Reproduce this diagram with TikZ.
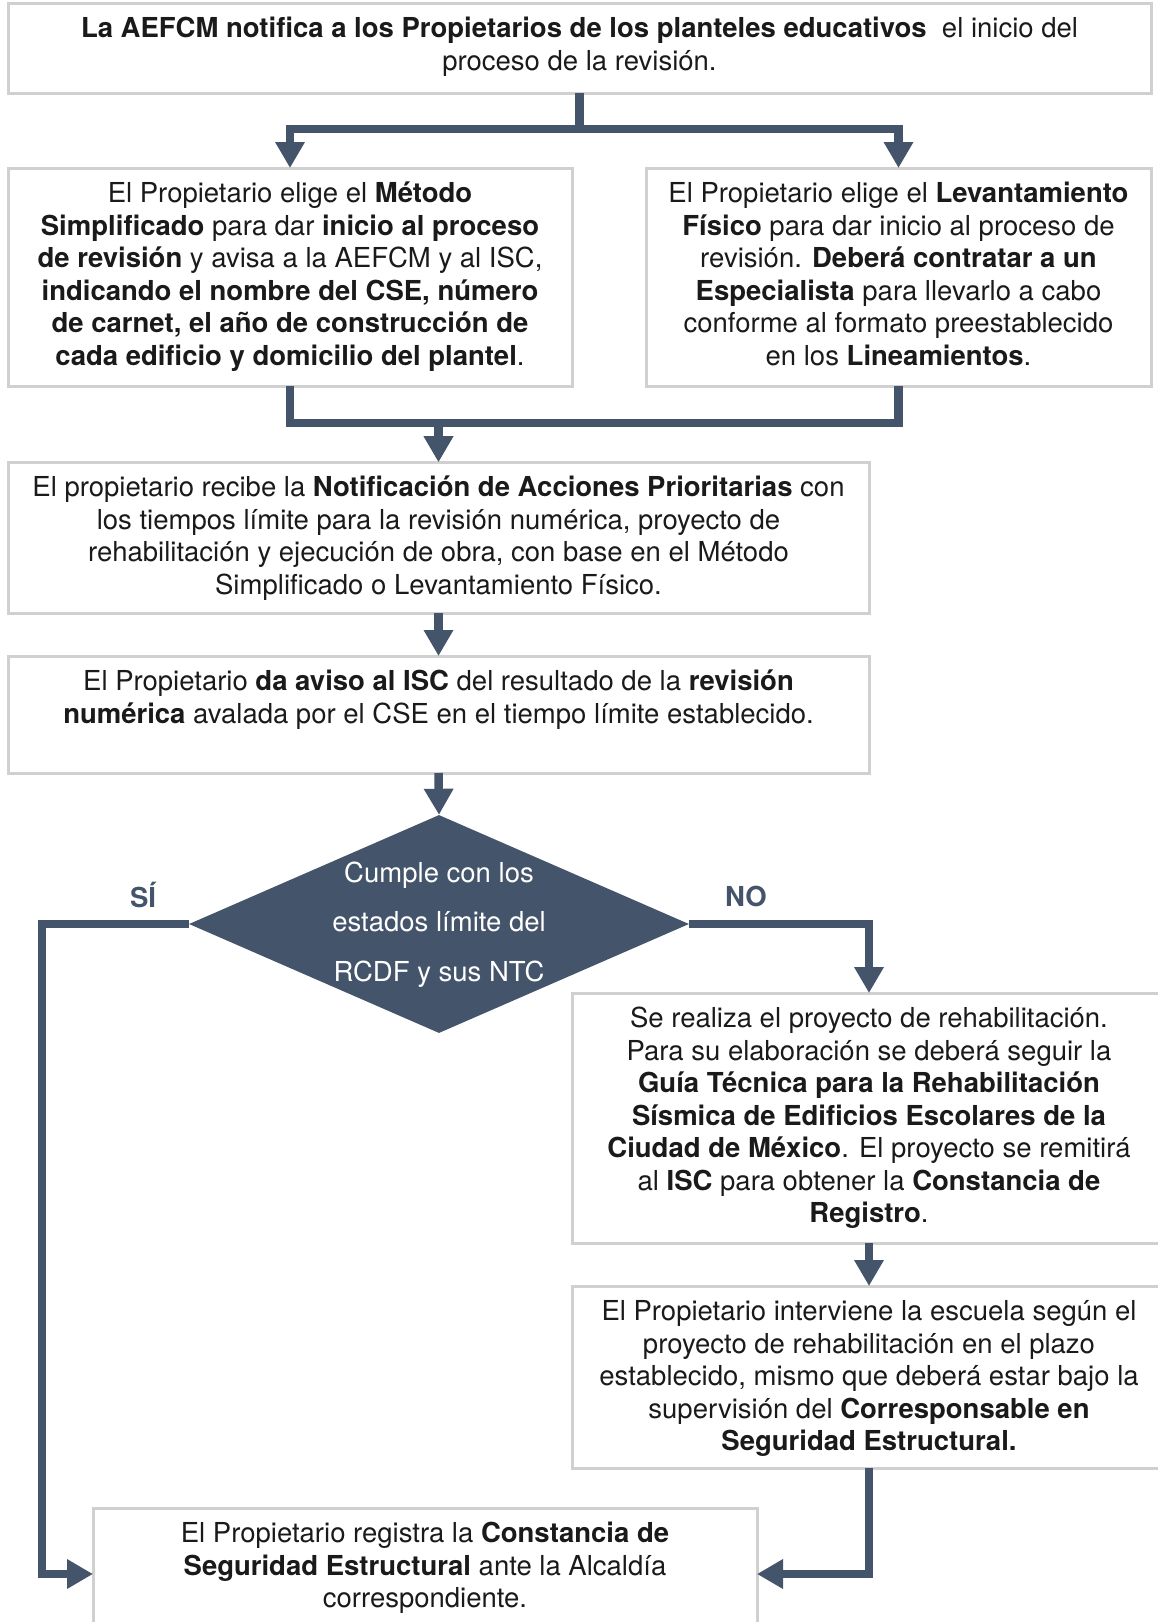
\documentclass[tikz,border=0pt]{standalone}
\usepackage{fontspec}
\setmainfont{TeX Gyre Heros}
\usepackage{tikz}
\usetikzlibrary{arrows.meta, positioning, shapes.geometric}
\usepackage{xcolor}
\definecolor{slate}{HTML}{44546A}
\definecolor{boxgray}{HTML}{D0D0D0}
\definecolor{ink}{HTML}{1A1A1A}

% top-aligned text in a box of fixed size
\newcommand{\boxtext}[3]{\parbox[c][#1][t]{#2}{\centering\vspace*{12pt}\strut #3}}

\begin{document}
\begin{tikzpicture}[x=1pt, y=-1pt,
        stepbox/.style={rectangle, draw=boxgray, line width=3pt, fill=white,
                    inner sep=0pt, outer sep=0pt, anchor=north west, text=ink,
                    font=\fontsize{27.5}{32.5}\selectfont},
        decision/.style={diamond, fill=slate, text=white, aspect=2.3,
                    minimum width=500pt, minimum height=218pt, inner sep=0pt,
                    font=\fontsize{27.5}{33}\selectfont},
        answer/.style={text=slate, font=\fontsize{27.5}{33}\selectfont\bfseries},
        flow/.style={draw=slate, line width=8.5pt,
                    -{Triangle[length=26pt, width=28pt]}},
      ]
        \useasboundingbox[fill=white] (0,0) rectangle (1157,1622);

        \node[stepbox] (top) at (8,3) {\boxtext{90pt}{1143pt}{%
            \textbf{La AEFCM notifica a los Propietarios de los planteles educativos}~ el inicio del\\
            proceso de la revisión.}};
        \node[stepbox] (metodo) at (8,168) {\boxtext{218pt}{564pt}{%
            El Propietario elige el \textbf{Método}\\
            \textbf{Simplificado} para dar \textbf{inicio al proceso}\\
            \textbf{de revisión} y avisa a la AEFCM y al ISC,\\
            \textbf{indicando el nombre del CSE, número}\\
            \textbf{de carnet, el año de construcción de}\\
            \textbf{cada edificio y domicilio del plantel}.}};
        \node[stepbox] (levant) at (646,168) {\boxtext{218pt}{505pt}{%
            El Propietario elige el \textbf{Levantamiento}\\
            \textbf{Físico} para dar inicio al proceso de\\
            revisión. \textbf{Deberá contratar a un}\\
            \textbf{Especialista} para llevarlo a cabo\\
            conforme al formato preestablecido\\
            en los \textbf{Lineamientos}.}};
        \node[stepbox] (recibe) at (8,462) {\boxtext{151pt}{861pt}{%
            El propietario recibe la \textbf{Notificación de Acciones Prioritarias} con\\
            los tiempos límite para la revisión numérica, proyecto de\\
            rehabilitación y ejecución de obra, con base en el Método\\
            Simplificado o Levantamiento Físico.}};
        \node[stepbox] (aviso) at (8,656) {\boxtext{117pt}{861pt}{%
            El Propietario \textbf{da aviso al ISC} del resultado de la \textbf{revisión}\\
            \textbf{numérica} avalada por el CSE en el tiempo límite establecido.}};
        \node[decision] (cumple) at (439,924) {\smash{\raisebox{-4pt}{\renewcommand{\arraystretch}{1.5}%
            \begin{tabular}[c]{@{}c@{}}Cumple con los\\ estados límite del\\ RCDF y sus NTC\end{tabular}}}};
        \node[answer] (si) at (143,895) {SÍ};
        \node[answer] (no) at (746,896) {NO};
        \node[stepbox] (rehab) at (572,993) {\boxtext{250pt}{594pt}{%
            Se realiza el proyecto de rehabilitación.\\
            Para su elaboración se deberá seguir la\\
            \textbf{Guía Técnica para la Rehabilitación}\\
            \textbf{Sísmica de Edificios Escolares de la}\\
            \textbf{Ciudad de México}. El proyecto se remitirá\\
            al \textbf{ISC} para obtener la \textbf{Constancia de}\\
            \textbf{Registro}.}};
        \node[stepbox] (interv) at (572,1286) {\boxtext{182pt}{594pt}{%
            El Propietario interviene la escuela según el\\
            proyecto de rehabilitación en el plazo\\
            establecido, mismo que deberá estar bajo la\\
            supervisión del \textbf{Corresponsable en}\\
            \textbf{Seguridad Estructural.}}};
        \node[stepbox] (registro) at (93,1508) {\boxtext{132pt}{664pt}{%
            El Propietario registra la \textbf{Constancia de}\\
            \textbf{Seguridad Estructural} ante la Alcaldía\\
            correspondiente.}};

        % connectors
        \draw[flow] (top.south) -- ++(0,36) -| (metodo.north);
        \draw[flow] (top.south) -- ++(0,36) -| (levant.north);
        \draw[flow] (metodo.south) -- ++(0,37) -| (recibe.north);
        \draw[flow] (levant.south) -- ++(0,37) -| (recibe.north);
        \draw[flow] (recibe.south) -- (aviso.north);
        \draw[flow] (aviso.south) -- (cumple.north);
        \draw[flow] (cumple.west) -- ++(-147,0) |- (registro.west);
        \draw[flow] (cumple.east) -| (rehab.north);
        \draw[flow] (rehab.south) -- (interv.north);
        \draw[flow] (interv.south) |- (registro.east);
      \end{tikzpicture}
\end{document}
